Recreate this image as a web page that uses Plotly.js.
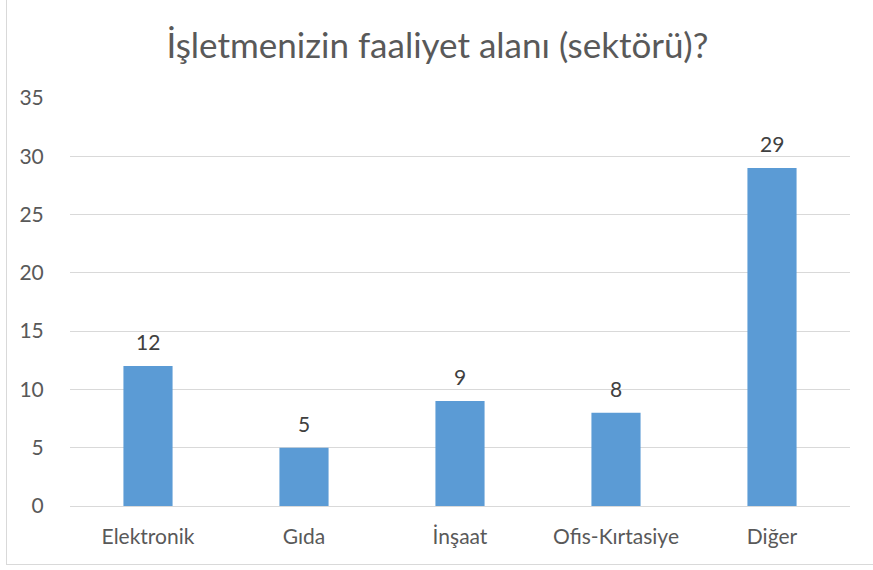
<!DOCTYPE html>
<html>
<head>
<meta charset="utf-8">
<script src="https://cdn.plot.ly/plotly-3.0.1.min.js"></script>
<style>
html,body{margin:0;padding:0;background:#fff;}
#wrap{position:relative;width:873px;height:570px;overflow:hidden;}
#frame{position:absolute;left:6px;top:-2px;width:880px;height:567px;border:1px solid #D9D9D9;box-sizing:border-box;pointer-events:none;}
#chart{position:absolute;left:0;top:0;width:873px;height:570px;}
</style>
</head>
<body>
<div id="wrap"><div id="chart"></div><div id="frame"></div></div>
<script>
const categories = ["Elektronik", "Gıda", "İnşaat", "Ofis-Kırtasiye", "Diğer"];
const values = [12, 5, 9, 8, 29];
const yTicks = [0, 5, 10, 15, 20, 25, 30, 35];
const titleText = "İşletmenizin faaliyet alanı (sektörü)?";

const fontFam = "Lato, 'Open Sans', sans-serif";

const trace = {
  type: 'bar',
  x: categories,
  y: values,
  marker: {color: '#5B9BD5', line: {width: 0}},
  hoverinfo: 'none'
};

const annotations = categories.map((c, i) => ({
  x: c, y: values[i], xref: 'x', yref: 'y',
  text: String(values[i]), showarrow: false,
  yanchor: 'bottom', yshift: 10,
  font: {family: fontFam, size: 21, color: '#404040'}
}));

const layout = {
  width: 873, height: 570,
  margin: {l: 70, r: 23, t: 98, b: 64},
  paper_bgcolor: '#ffffff', plot_bgcolor: '#ffffff',
  title: {
    text: titleText,
    x: 0.501, xanchor: 'center', xref: 'container',
    y: 1 - 46/570, yanchor: 'middle', yref: 'container',
    font: {family: fontFam, size: 35, color: '#595959'}
  },
  bargap: 0.685,
  showlegend: false,
  xaxis: {
    type: 'category',
    showgrid: false, zeroline: false,
    showline: true, linecolor: '#D9D9D9', linewidth: 1,
    ticks: 'outside', ticklen: 12, tickcolor: 'rgba(0,0,0,0)',
    tickfont: {family: fontFam, size: 21, color: '#595959'},
    fixedrange: true
  },
  yaxis: {
    range: [0, 35],
    tickvals: yTicks,
    ticktext: yTicks.map(String),
    showgrid: true, gridcolor: '#D9D9D9', gridwidth: 1,
    zeroline: false, showline: false,
    ticks: 'outside', ticklen: 21, tickcolor: 'rgba(0,0,0,0)',
    tickfont: {family: fontFam, size: 21, color: '#595959'},
    fixedrange: true
  },
  annotations: annotations
};

Plotly.newPlot('chart', [trace], layout, {displayModeBar: false, staticPlot: true});
</script>
</body>
</html>
